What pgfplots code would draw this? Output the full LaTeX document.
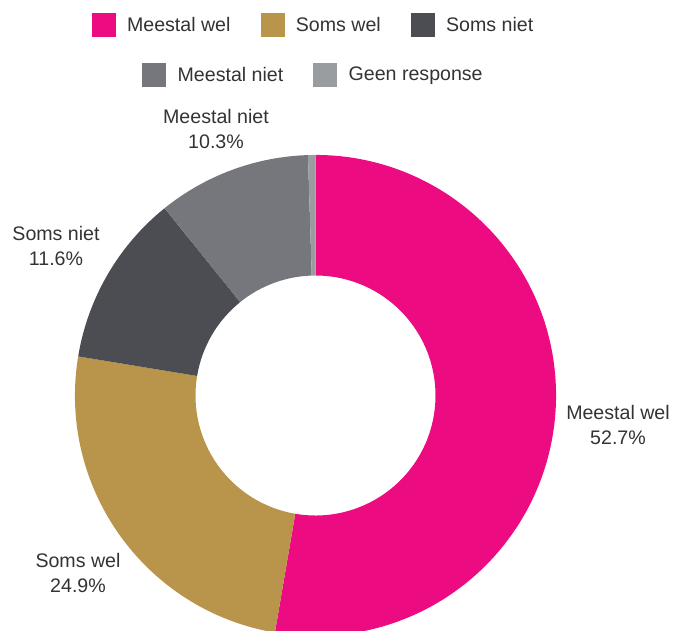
\documentclass[border=0pt]{standalone}
\usepackage{fontspec}
\setmainfont{Liberation Sans}
\usepackage{pgfplots}
\usepackage{pgfplotstable}
\pgfplotsset{compat=1.18}

\definecolor{cMwel}{HTML}{EC0B80}
\definecolor{cSwel}{HTML}{B8954A}
\definecolor{cSniet}{HTML}{4C4D52}
\definecolor{cMniet}{HTML}{76777C}
\definecolor{cGeen}{HTML}{9A9DA0}
\definecolor{txt}{HTML}{333333}

\pgfplotstableread[col sep=comma]{
label,value
Meestal wel,52.7
Soms wel,24.9
Soms niet,11.6
Meestal niet,10.3
Geen response,0.5
}\donut
\pgfplotstablegetelem{0}{value}\of\donut \let\vA\pgfplotsretval
\pgfplotstablegetelem{1}{value}\of\donut \let\vB\pgfplotsretval
\pgfplotstablegetelem{2}{value}\of\donut \let\vC\pgfplotsretval
\pgfplotstablegetelem{3}{value}\of\donut \let\vD\pgfplotsretval
\pgfplotstablegetelem{4}{value}\of\donut \let\vE\pgfplotsretval
% cumulative angles, clockwise from the top
\pgfmathsetmacro\aA{90}
\pgfmathsetmacro\aB{\aA-3.6*\vA}
\pgfmathsetmacro\aC{\aB-3.6*\vB}
\pgfmathsetmacro\aD{\aC-3.6*\vC}
\pgfmathsetmacro\aE{\aD-3.6*\vD}
\pgfmathsetmacro\aF{\aE-3.6*\vE}

% donut geometry (axis units = pixels of the reference, 1px = 0.75pt)
\def\Ro{180.4pt}
\def\Ri{90pt}
\newcommand\donutseg[3]{%
  \fill[#3] (axis cs:315.5,235.5) ++(#1:\Ro)
    arc[start angle=#1,end angle=#2,radius=\Ro]
    -- ++(#2:{\Ri-\Ro})
    arc[start angle=#2,end angle=#1,radius=\Ri] -- cycle;}

\pgfplotsset{
  donutaxis/.style={
    scale only axis, width=508.5pt, height=473.25pt,
    xmin=0, xmax=678, ymin=0, ymax=631,
    hide axis, clip=false,
    legend image code/.code={%
      \fill[##1, draw=none] (0pt,-9pt) rectangle (18pt,9pt);
      \path[draw=none, fill=none] (0pt,0pt) -- (26.5pt,0pt);},
    legend columns=-1,
    legend cell align=left,
    legend style={draw=none, fill=none, anchor=center,
      font=\fontsize{14.7}{17}\selectfont, text=txt,
      nodes={inner sep=0pt, text depth=0.15em},
      /tikz/every even column/.append style={column sep=22.5pt}},
  }
}

\begin{document}
\begin{tikzpicture}
\begin{axis}[donutaxis,
    legend style={at={(0.4609,0.9604)}}]
  \addlegendimage{fill=cMwel}\addlegendentry{Meestal wel}
  \addlegendimage{fill=cSwel}\addlegendentry{Soms wel}
  \addlegendimage{fill=cSniet}\addlegendentry{Soms niet}
  \donutseg{\aA}{\aB}{cMwel}
  \donutseg{\aB}{\aC}{cSwel}
  \donutseg{\aC}{\aD}{cSniet}
  \donutseg{\aD}{\aE}{cMniet}
  \donutseg{\aE}{\aF}{cGeen}
  \begin{scope}[every node/.style={align=center, text=txt,
      font=\fontsize{14.7}{18.75}\selectfont}]
    \node at (axis cs:618,206.5) {Meestal wel\\52.7\%};
    \node at (axis cs:78,58.5) {Soms wel\\24.9\%};
    \node at (axis cs:56,384.5) {Soms niet\\11.6\%};
    \node at (axis cs:216,501.5) {Meestal niet\\10.3\%};
  \end{scope}
\end{axis}
\begin{axis}[donutaxis,
    legend style={at={(0.4609,0.8811)}}]
  \addlegendimage{fill=cMniet}\addlegendentry{Meestal niet}
  \addlegendimage{fill=cGeen}\addlegendentry{Geen response}
\end{axis}
\pgfresetboundingbox
\path (0pt,0pt) rectangle (508.5pt,473.25pt);
\end{tikzpicture}
\end{document}
